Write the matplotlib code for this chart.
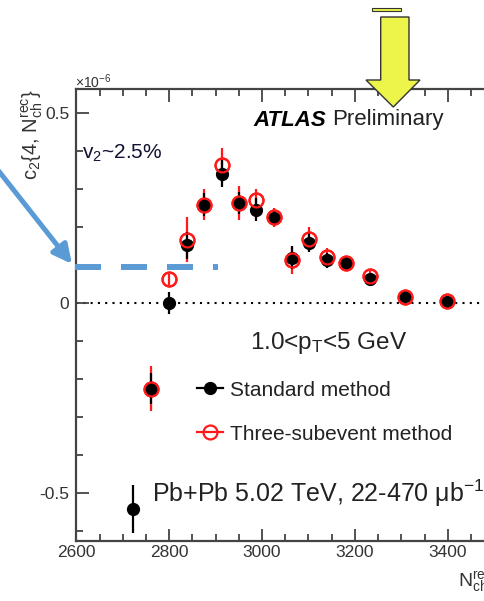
import numpy as np
import matplotlib
matplotlib.use('Agg')
import matplotlib.pyplot as plt
from matplotlib.ticker import MultipleLocator, FixedLocator, FuncFormatter
from matplotlib.lines import Line2D
from matplotlib.patches import Polygon

plt.rcParams['font.family'] = ['Liberation Sans', 'DejaVu Sans']
plt.rcParams['mathtext.fontset'] = 'custom'
plt.rcParams['mathtext.rm'] = 'Liberation Sans'
plt.rcParams['mathtext.it'] = 'Liberation Sans:italic'
plt.rcParams['axes.unicode_minus'] = False

# c2{4} in units of 1e-6
nch_std = [2722, 2760, 2800, 2838, 2875, 2913, 2950, 2988, 3026, 3065, 3102, 3140, 3180, 3233, 3308, 3398]
c24_std = [-0.543, -0.225, 0.000, 0.152, 0.259, 0.340, 0.263, 0.246, 0.224, 0.119, 0.158, 0.112, 0.104, 0.064, 0.018, 0.003]
err_std = [0.063, 0.040, 0.030, 0.035, 0.030, 0.035, 0.030, 0.030, 0.020, 0.030, 0.025, 0.020, 0.012, 0.012, 0.012, 0.010]

nch_sub = [2760, 2800, 2838, 2875, 2913, 2950, 2988, 3026, 3065, 3102, 3140, 3180, 3233, 3308, 3398]
c24_sub = [-0.225, 0.062, 0.167, 0.259, 0.364, 0.263, 0.270, 0.226, 0.112, 0.169, 0.121, 0.104, 0.070, 0.015, 0.005]
err_sub = [0.060, 0.015, 0.058, 0.040, 0.045, 0.045, 0.030, 0.025, 0.035, 0.030, 0.025, 0.012, 0.015, 0.015, 0.012]

W, H = 485, 601
def fx(px): return px / W
def fy(py): return 1 - py / H

fig = plt.figure(figsize=(W/100, H/100), dpi=100)
# axes runs past the right edge, like the cropped screenshot
ax = fig.add_axes([fx(76.3), fy(541), 900*0.4643/W, (541-89)/H])
ax.set_xlim(2600, 3500)
ax.set_ylim(-0.626, 0.563)

ax.axhline(0, color='k', ls=(0, (1, 2.5)), lw=1.5, zorder=1)

ax.errorbar(nch_sub, c24_sub, yerr=err_sub, fmt='o', color='#ff1a1a', mfc='none', mec='#ff1a1a',
            ms=10, mew=1.6, elinewidth=1.6, capsize=0, zorder=2)
ax.errorbar(nch_std, c24_std, yerr=err_std, fmt='o', color='k', ms=8.5, elinewidth=1.6, capsize=0, zorder=3)
ax.plot(nch_sub, c24_sub, 'o', mfc='none', mec='#ff1a1a', ms=10, mew=1.6, zorder=4)

for s in ['left', 'bottom', 'top']:
    ax.spines[s].set_linewidth(1.6)
    ax.spines[s].set_color('#444444')
ax.spines['right'].set_visible(False)

ax.xaxis.set_major_locator(MultipleLocator(200))
ax.xaxis.set_minor_locator(MultipleLocator(50))
ax.yaxis.set_major_locator(FixedLocator([-0.5, 0, 0.5]))
ax.yaxis.set_minor_locator(MultipleLocator(0.1))
ax.yaxis.set_major_formatter(FuncFormatter(lambda v, p: '0' if abs(v) < 1e-9 else '%g' % v))
ax.tick_params(which='both', direction='in', top=True, right=False, color='#444444', width=1.3,
               labelsize=12.5, labelcolor='#333333')
ax.tick_params(which='major', length=9)
ax.tick_params(which='minor', length=5)
ax.tick_params(axis='x', pad=3)
ax.tick_params(axis='y', pad=5)

fig.text(fx(75), fy(82), r'$\times$10$^{-6}$', fontsize=10, color='#333333', va='center', ha='left')
fig.text(fx(32), fy(89), r'c$_2${4, N$_{\rm ch}^{\rm rec}$}', rotation=90, fontsize=14.5,
         color='#333333', ha='center', va='top')
fig.text(fx(458), fy(582), r'N$_{\rm ch}^{\rm rec}$', fontsize=14, color='#333333', ha='left', va='center')

fig.text(fx(253), fy(120), 'ATLAS', fontsize=16, fontweight='bold', fontstyle='italic', va='center')
fig.text(fx(332), fy(120), 'Preliminary', fontsize=16, va='center', color='#222222')
fig.text(fx(250), fy(343), r'1.0<p$_{\rm T}$<5 GeV', fontsize=17.5, va='center', color='#222222')
fig.text(fx(152), fy(493), 'Pb+Pb 5.02 TeV, 22-470 \u03bcb$^{-1}$', fontsize=18, va='center', color='#222222')

handles = [Line2D([], [], color='k', marker='o', ms=8.5, lw=1.6),
           Line2D([], [], color='#ff1a1a', marker='o', mfc='none', ms=10, mew=1.6, lw=1.6)]
ax.legend(handles, ['Standard method', 'Three-subevent method'], loc='center left',
          bbox_to_anchor=(fx(196.7), fy(412)), bbox_transform=fig.transFigure, frameon=False,
          fontsize=15, handlelength=1.28, handletextpad=0.3, labelspacing=1.2,
          borderpad=0, borderaxespad=0, labelcolor='#222222')

# overlay annotations
fig.text(fx(82), fy(153), r'v$_2$~2.5%', fontsize=15, color='#111133', va='center', ha='left')
blue = '#5b9bd5'
fig.add_artist(Line2D([fx(75), fx(218)], [fy(266.7), fy(266.7)], transform=fig.transFigure,
                      color=blue, lw=4.3, dashes=(4.35, 3.35), solid_capstyle='butt', dash_capstyle='butt'))
ax.annotate('', xy=(72, H-264), xytext=(-10, H-160), xycoords='figure pixels', textcoords='figure pixels',
            arrowprops=dict(arrowstyle='-|>', lw=3.6, color=blue, mutation_scale=28,
                            shrinkA=0, shrinkB=0), annotation_clip=False)

yellow = '#eef54a'
pts = [(380.7, 17), (409, 17), (409, 80), (420, 80), (393.3, 107), (366, 80), (380.7, 80)]
fig.add_artist(Polygon([(fx(x), fy(y)) for x, y in pts], closed=True, transform=fig.transFigure,
                       fc=yellow, ec='#333333', lw=1.0, zorder=10))
fig.add_artist(Polygon([(fx(372), fy(8)), (fx(401), fy(8)), (fx(401), fy(10.5)), (fx(372), fy(10.5))],
                       closed=True, transform=fig.transFigure, fc=yellow, ec='#333333', lw=0.8, zorder=10))

fig.savefig('out.png', dpi=100)
